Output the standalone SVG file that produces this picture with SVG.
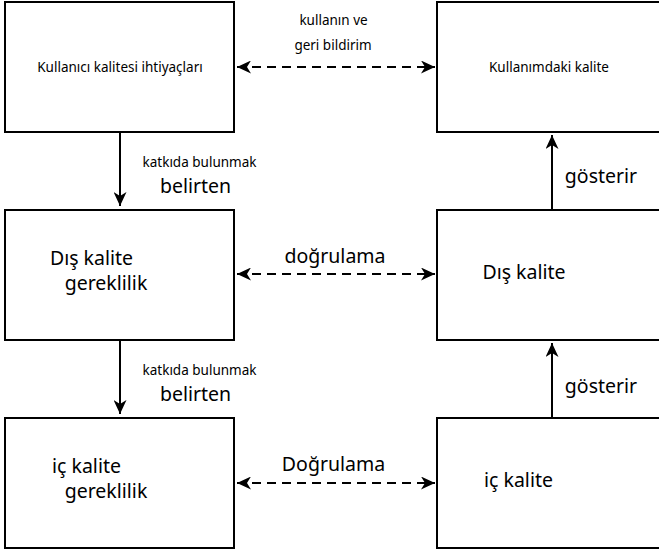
<svg xmlns="http://www.w3.org/2000/svg" width="659" height="555" viewBox="0 0 659 555">
<style>
.box{fill:#fff;stroke:#000;stroke-width:2}
.t{font-family:"Noto Sans","Open Sans",sans-serif;fill:#000;text-anchor:middle}
.s{font-size:13.5px}
.l{font-size:19.5px}
.c{stroke:#000;stroke-width:2;fill:none}
.d{stroke-dasharray:9,6}
</style>
<defs>
<marker id="ah" markerUnits="userSpaceOnUse" markerWidth="15" markerHeight="13" refX="14" refY="6.5" orient="auto-start-reverse" viewBox="0 0 15 13">
<path d="M0,0 L14,6.5 L0,13 L4,6.5 Z" fill="#000"/>
</marker>
</defs>
<g id="connectors">
<line class="c d" x1="237" y1="67" x2="435" y2="67" marker-start="url(#ah)" marker-end="url(#ah)"/>
<line class="c d" x1="237" y1="274" x2="435" y2="274" marker-start="url(#ah)" marker-end="url(#ah)"/>
<line class="c d" x1="237" y1="483" x2="435" y2="483" marker-start="url(#ah)" marker-end="url(#ah)"/>
<line class="c" x1="120" y1="133" x2="120" y2="206" marker-end="url(#ah)"/>
<line class="c" x1="120" y1="341" x2="120" y2="414" marker-end="url(#ah)"/>
<line class="c" x1="552" y1="209" x2="552" y2="135" marker-end="url(#ah)"/>
<line class="c" x1="552" y1="417" x2="552" y2="343" marker-end="url(#ah)"/>
<text class="t s" x="333.5" y="25">kullanın ve</text>
<text class="t s" x="333" y="50">geri bildirim</text>
<text class="t s" x="199.5" y="167">katkıda bulunmak</text>
<text class="t l" x="195.5" y="193">belirten</text>
<text class="t s" x="199.5" y="375">katkıda bulunmak</text>
<text class="t l" x="195.5" y="401">belirten</text>
<text class="t l" x="601" y="183">gösterir</text>
<text class="t l" x="601" y="393">gösterir</text>
<text class="t l" x="335" y="263">doğrulama</text>
<text class="t l" x="333.5" y="471">Doğrulama</text>
</g>
<g id="n1">
<rect class="box" x="5" y="2" width="229" height="130"/>
<text class="t s" x="120" y="72">Kullanıcı kalitesi ihtiyaçları</text>
</g>
<g id="n2">
<rect class="box" x="437" y="2" width="230" height="130"/>
<text class="t s" x="549" y="72">Kullanımdaki kalite</text>
</g>
<g id="n3">
<rect class="box" x="5" y="210" width="229" height="130"/>
<text class="t l" x="91.5" y="265">Dış kalite</text>
<text class="t l" x="106" y="290">gereklilik</text>
</g>
<g id="n4">
<rect class="box" x="437" y="210" width="230" height="130"/>
<text class="t l" x="524" y="279">Dış kalite</text>
</g>
<g id="n5">
<rect class="box" x="5" y="418" width="229" height="130"/>
<text class="t l" x="86.5" y="473">iç kalite</text>
<text class="t l" x="106" y="498">gereklilik</text>
</g>
<g id="n6">
<rect class="box" x="437" y="418" width="230" height="130"/>
<text class="t l" x="518.5" y="487">iç kalite</text>
</g>
</svg>
